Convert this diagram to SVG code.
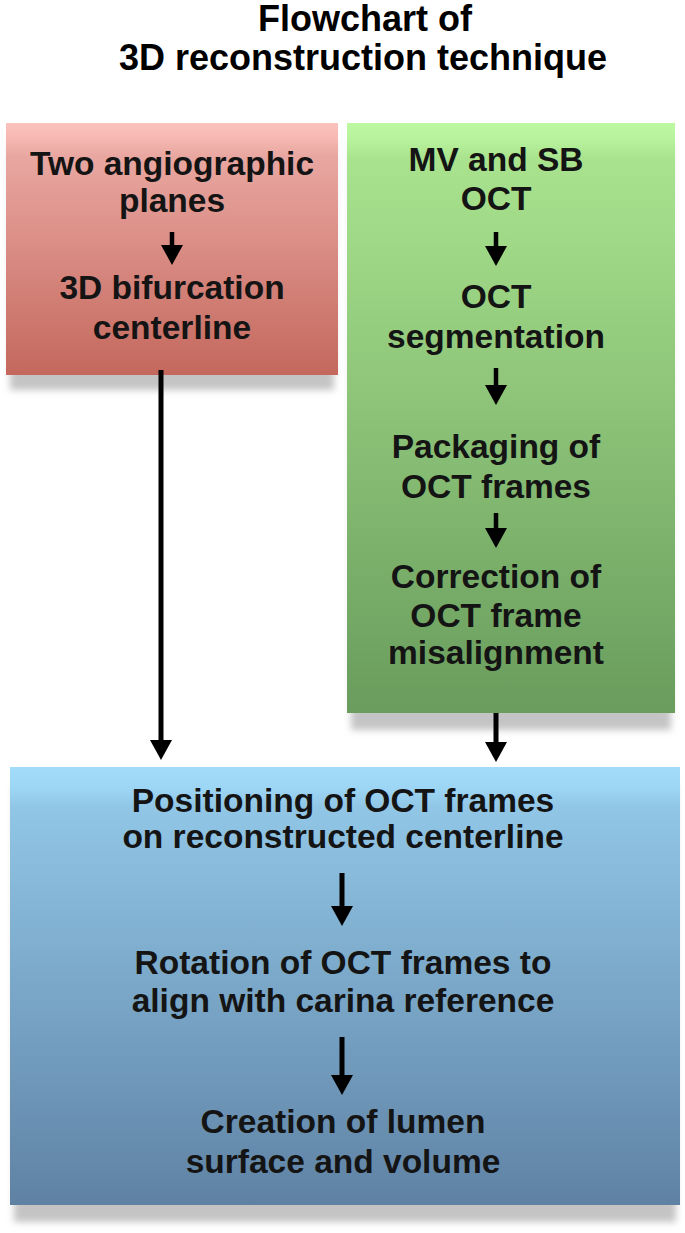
<svg xmlns="http://www.w3.org/2000/svg" width="685" height="1233" viewBox="0 0 685 1233">
  <style>
    .title { font-family: "Liberation Sans", Arial, sans-serif; font-weight: bold; font-size: 36px; fill: #000; text-anchor: middle; }
    .lbl { font-family: "Liberation Sans", Arial, sans-serif; font-weight: bold; font-size: 33.5px; fill: #141414; text-anchor: middle; }
    .stem { stroke: #000; stroke-width: 4.5; fill: none; }
    .shadow { fill: #c4c4c4; filter: url(#blur); }
  </style>
  <defs>
    <filter id="blur" x="-10%" y="-10%" width="120%" height="130%">
      <feGaussianBlur stdDeviation="3.5"/>
    </filter>
    <linearGradient id="gRed" x1="0" y1="0" x2="0" y2="1">
      <stop offset="0" stop-color="#fcc2bd"/>
      <stop offset="0.06" stop-color="#f6b8b2"/>
      <stop offset="0.13" stop-color="#e9a7a1"/>
      <stop offset="1" stop-color="#c4685d"/>
    </linearGradient>
    <linearGradient id="gGreen" x1="0" y1="0" x2="0" y2="1">
      <stop offset="0" stop-color="#bef8a2"/>
      <stop offset="0.03" stop-color="#b7f19b"/>
      <stop offset="0.06" stop-color="#a9e38e"/>
      <stop offset="1" stop-color="#699c5d"/>
    </linearGradient>
    <linearGradient id="gBlue" x1="0" y1="0" x2="0" y2="1">
      <stop offset="0" stop-color="#a3dbfa"/>
      <stop offset="0.05" stop-color="#9dd5f5"/>
      <stop offset="0.09" stop-color="#91c6e6"/>
      <stop offset="1" stop-color="#5f82a4"/>
    </linearGradient>
    <marker id="head" viewBox="0 0 20 22" refX="0" refY="11" markerWidth="20" markerHeight="22" markerUnits="userSpaceOnUse" orient="auto">
      <path d="M0,0 L20,11 L0,22 z" fill="#000"/>
    </marker>
  </defs>

  <rect x="0" y="0" width="685" height="1233" fill="#fff"/>

  <g id="title">
    <text class="title" x="365" y="31">Flowchart of</text>
    <text class="title" x="363" y="70">3D reconstruction technique</text>
  </g>

  <g id="node-angiography">
    <rect class="shadow" x="10" y="140" width="324" height="250"/>
    <rect x="6" y="123" width="332" height="252" fill="url(#gRed)"/>
    <text class="lbl" x="172" y="175">Two angiographic</text>
    <text class="lbl" x="172" y="212">planes</text>
    <text class="lbl" x="172" y="299">3D bifurcation</text>
    <text class="lbl" x="172" y="339">centerline</text>
  </g>

  <g id="node-oct">
    <rect class="shadow" x="351" y="140" width="320" height="590"/>
    <rect x="347" y="123" width="328" height="590" fill="url(#gGreen)"/>
    <text class="lbl" x="496" y="171">MV and SB</text>
    <text class="lbl" x="496" y="210">OCT</text>
    <text class="lbl" x="496" y="308">OCT</text>
    <text class="lbl" x="496" y="348">segmentation</text>
    <text class="lbl" x="496" y="458">Packaging of</text>
    <text class="lbl" x="496" y="498">OCT frames</text>
    <text class="lbl" x="496" y="588">Correction of</text>
    <text class="lbl" x="496" y="627">OCT frame</text>
    <text class="lbl" x="496" y="664">misalignment</text>
  </g>

  <g id="node-reconstruction">
    <rect class="shadow" x="14" y="785" width="662" height="437"/>
    <rect x="10" y="767" width="670" height="438" fill="url(#gBlue)"/>
    <text class="lbl" x="343" y="812">Positioning of OCT frames</text>
    <text class="lbl" x="343" y="848">on reconstructed centerline</text>
    <text class="lbl" x="343" y="974">Rotation of OCT frames to</text>
    <text class="lbl" x="343" y="1012">align with carina reference</text>
    <text class="lbl" x="343" y="1133">Creation of lumen</text>
    <text class="lbl" x="343" y="1173">surface and volume</text>
  </g>

  <g id="connectors">
    <line class="stem" x1="172" y1="232" x2="172" y2="245" marker-end="url(#head)"/>
    <line class="stem" x1="496" y1="232" x2="496" y2="246" marker-end="url(#head)"/>
    <line class="stem" x1="496" y1="368" x2="496" y2="385" marker-end="url(#head)"/>
    <line class="stem" x1="496" y1="513" x2="496" y2="528" marker-end="url(#head)"/>
    <line class="stem" x1="161" y1="370" x2="161" y2="740" marker-end="url(#head)" style="stroke-width:5"/>
    <line class="stem" x1="496" y1="713" x2="496" y2="742" marker-end="url(#head)" style="stroke-width:5"/>
    <line class="stem" x1="342" y1="873" x2="342" y2="906" marker-end="url(#head)" style="stroke-width:5"/>
    <line class="stem" x1="342" y1="1037" x2="342" y2="1075" marker-end="url(#head)" style="stroke-width:5"/>
  </g>
</svg>
